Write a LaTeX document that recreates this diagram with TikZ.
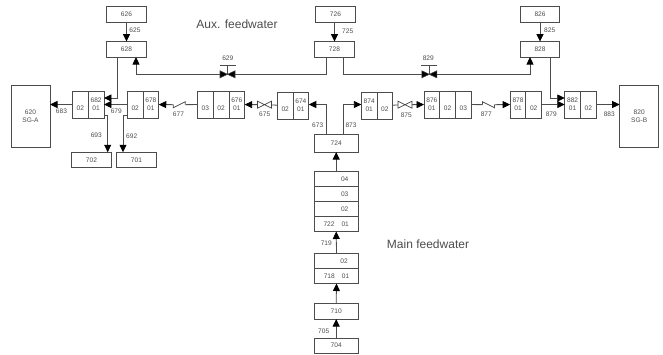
\documentclass[tikz,border=0pt]{standalone}
\usepackage{fontspec}
\setmainfont{Liberation Sans}
\usepackage{xcolor}
\usetikzlibrary{arrows.meta, positioning}
\newcommand{\drawvalve}[2]{\draw[line width=0.6pt, draw=black!75, fill=#2] (#1.south west) -- (#1.north west) -- (#1.south east) -- (#1.north east) -- cycle;}
\begin{document}
\begin{tikzpicture}[
    x=1pt, y=-1pt,
    font=\fontsize{6.6}{8}\selectfont,
    every node/.style={text=black!70},
    block/.style={draw=black!70, line width=0.8pt, outer sep=0pt, inner sep=0pt, minimum width=39.5, minimum height=15.5, align=center},
    cell/.style={block, minimum width=15.7, minimum height=27},
    row/.style={block, minimum width=44.5, minimum height=15},
    tank/.style={block, minimum width=39, minimum height=62},
    valve/.style={inner sep=0pt, outer sep=0pt, minimum width=14, minimum height=7},
    check/.style={inner sep=0pt, outer sep=0pt, minimum width=12, minimum height=6},
    lab/.style={inner sep=0pt},
    title/.style={font=\fontsize{12}{14}\selectfont, inner sep=0pt},
    line/.style={draw=black!70, line width=0.8pt},
    arrow/.style={line, -{Triangle[length=7.5pt, width=7pt, black]}},
    both/.style={line, {Triangle[length=7.5pt, width=7pt, black]}-}
]
\useasboundingbox (0,0) rectangle (663,354);

% Aux. feedwater
\node[block] (n626) at (126.5,14.5) {626};
\node[block] (n628) at (126.5,49.3) {628};
\node[block] (n726) at (335.5,14.5) {726};
\node[block] (n728) at (334.5,49.3) {728};
\node[block] (n826) at (540,14.5) {826};
\node[block] (n828) at (540,49.3) {828};

% Steam generators
\node[tank] (n620) at (30.5,116) {620\\SG-A};
\node[tank] (n820) at (639.2,116) {820\\SG-B};

% Left train
\node[cell] (n682b) at (80.4,104.5) {\phantom{0}\\02};
\node[cell, right=0pt of n682b] (n682a) {682\\01};
\node[cell] (n678b) at (135.2,104.5) {\phantom{0}\\02};
\node[cell, right=0pt of n678b] (n678a) {678\\01};
\node[cell] (n676c) at (205.4,104.5) {\phantom{0}\\03};
\node[cell, right=0pt of n676c] (n676b) {\phantom{0}\\02};
\node[cell, right=0pt of n676b] (n676a) {676\\01};
\node[cell] (n674b) at (285.2,105.5) {\phantom{0}\\02};
\node[cell, right=0pt of n674b] (n674a) {674\\01};
\node[block] (n702) at (91.5,160) {702};
\node[block] (n701) at (136.5,160) {701};

% Right train
\node[cell] (n874a) at (369.2,105.5) {874\\01};
\node[cell, right=0pt of n874a] (n874b) {\phantom{0}\\02};
\node[cell] (n876a) at (431.9,104.5) {876\\01};
\node[cell, right=0pt of n876a] (n876b) {\phantom{0}\\02};
\node[cell, right=0pt of n876b] (n876c) {\phantom{0}\\03};
\node[cell] (n878a) at (518,104.5) {878\\01};
\node[cell, right=0pt of n878a] (n878b) {\phantom{0}\\02};
\node[cell] (n882a) at (572.6,104.5) {882\\01};
\node[cell, right=0pt of n882a] (n882b) {\phantom{0}\\02};

% Main feedwater
\node[block, minimum width=44.5, minimum height=17.5] (n724) at (336.2,143.3) {724};
\node[row] (n722d) at (336.2,179) {\hspace*{17pt}04};
\node[row, below=0pt of n722d] (n722c) {\hspace*{17pt}03};
\node[row, below=0pt of n722c] (n722b) {\hspace*{17pt}02};
\node[row, below=0pt of n722b] (n722a) {722\hspace{7pt}01};
\node[row] (n718b) at (336.5,261) {\hspace*{15pt}02};
\node[row, below=0pt of n718b] (n718a) {718\hspace{7pt}01};
\node[row, minimum height=15.7] (n710) at (336.2,311.2) {710};
\node[row, minimum height=15] (n704) at (336.2,345.7) {704};

% Valves
\node[valve, minimum width=15] (v629) at (227.5,74.3) {};
\node[valve, minimum width=15] (v829) at (429.3,74.3) {};
\node[valve] (v675) at (264.5,104.7) {};
\node[valve] (v875) at (405,104.7) {};
\node[check] (c677) at (179.3,104.7) {};
\node[check] (c877) at (488.5,104.7) {};
\drawvalve{v629}{black}
\drawvalve{v829}{black}
\drawvalve{v675}{white}
\drawvalve{v875}{white}
\draw[line] (c677.west) -- (c677.south west) -- (c677.north east) -- (c677.east);
\draw[line] (c877.west) -- (c877.north west) -- (c877.south east) -- (c877.east);
\coordinate (s629) at (227.5,65);
\coordinate (s829) at (429.3,65);
\draw[line] (v629.center) -- (s629);
\draw[line] (v829.center) -- (s829);
\draw[line] ([xshift=-8pt]s629) -- ([xshift=8pt]s629);
\draw[line] ([xshift=-8pt]s829) -- ([xshift=8pt]s829);

% Arrows
\draw[arrow] (n626) -- (n628);
\draw[arrow] (n726.south -| n728) -- (n728);
\draw[arrow] (n826) -- (n828);
\draw[arrow] ([xshift=-9.5pt]n628.south) |- ([yshift=6.5pt]n682a.east);
\draw[arrow] ([xshift=10pt]n828.south) |- ([yshift=6.5pt]n882a.west);
\draw[both] ([xshift=9.5pt]n628.south) |- (v629.west);
\draw[line] ([xshift=-8.5pt]n728.south) |- (v629.east);
\draw[line] ([xshift=8.5pt]n728.south) |- (v829.west);
\draw[both] ([xshift=-10pt]n828.south) |- (v829.east);
\draw[arrow] (n682b) -- (n620.east |- n682b);
\draw[arrow] (n678b) -- (n682a);
\draw[arrow] (c677) -- (n678a);
\draw[line] (n676c) -- (c677);
\draw[arrow] (v675) -- (n676a);
\draw[line] (n674b) -- (v675);
\draw[arrow] ([xshift=-9.7pt]n724.north) |- ([yshift=1pt]n674a.east);
\draw[arrow] ([xshift=7.3pt]n724.north) |- ([yshift=1pt]n874a.west);
\draw[line] (n874b) -- (v875);
\draw[arrow] (v875) -- (n876a);
\draw[line] (n876c) -- (c877);
\draw[arrow] (c877) -- (n878a);
\draw[arrow] (n878b) -- (n882a);
\draw[arrow] (n882b) -- (n820.west |- n882b);
\draw[arrow] ([yshift=-11pt]n682a.east) -| ([xshift=16.2pt]n702.north);
\draw[arrow] ([yshift=-11pt]n678b.west) -| ([xshift=-13.5pt]n701.north);
\draw[arrow] (n722d.north) -- (n724.south);
\draw[arrow] (n718b.north) -- (n722a.south);
\draw[arrow] (n710.north) -- (n718a.south);
\draw[arrow] (n704.north) -- (n710.south);

% Labels
\node[lab] (l625) at (135,30.3) {625};
\node[lab] (l725) at (347.7,31.3) {725};
\node[lab] (l825) at (549.7,30.3) {825};
\node[lab] (l629) at (227.8,58.7) {629};
\node[lab] (l829) at (428.3,58.7) {829};
\node[lab] (l683) at (61.5,111.7) {683};
\node[lab] (l679) at (116.3,111.7) {679};
\node[lab] (l677) at (178.5,114.7) {677};
\node[lab] (l675) at (264.7,114.7) {675};
\node[lab] (l875) at (406.3,115.7) {875};
\node[lab] (l877) at (486.3,114.7) {877};
\node[lab] (l879) at (551.3,114.7) {879};
\node[lab] (l883) at (609.3,114.7) {883};
\node[lab] (l693) at (96.3,135.7) {693};
\node[lab] (l692) at (131.7,136.3) {692};
\node[lab] (l673) at (317.7,125.7) {673};
\node[lab] (l873) at (351,125.7) {873};
\node[lab] (l719) at (326.3,243.5) {719};
\node[lab] (l705) at (323.7,331) {705};
\node[title] (aux) at (237,24) {Aux. feedwater};
\node[title] (mainfw) at (428,244) {Main feedwater};
\end{tikzpicture}
\end{document}
